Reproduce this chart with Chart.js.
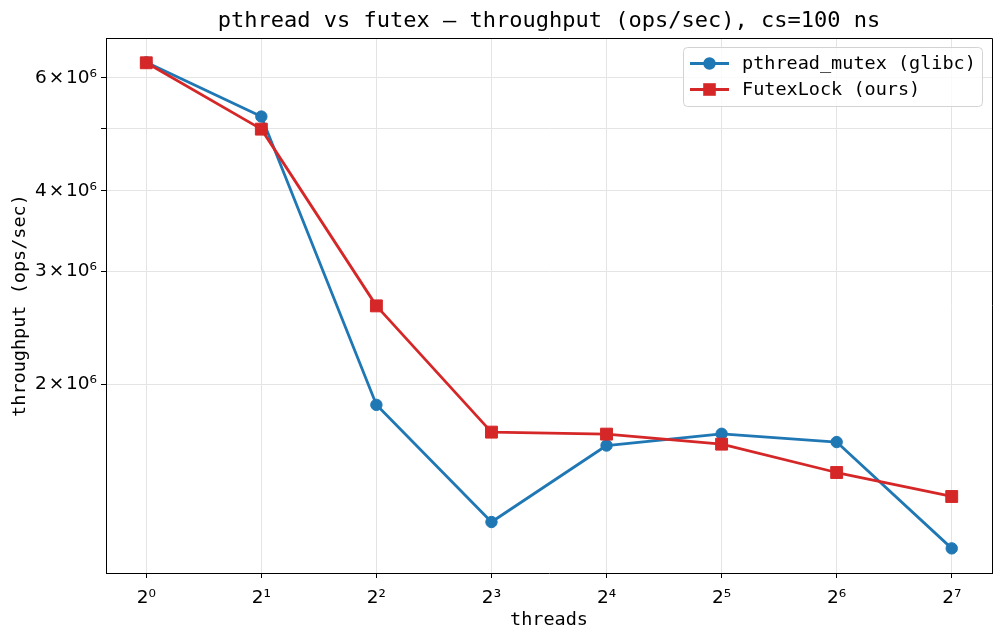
<!DOCTYPE html>
<html>
<head>
<meta charset="utf-8">
<script src="https://cdn.jsdelivr.net/npm/chart.js@4.4.1/dist/chart.umd.min.js"></script>
<style>
  html, body { margin: 0; padding: 0; background: #ffffff; }
  #wrap { width: 1004px; height: 641px; }
  canvas { display: block; }
</style>
</head>
<body>
<div id="wrap"><canvas id="c" width="1004" height="641"></canvas></div>
<script>
// ---- data ----
const threads = [1, 2, 4, 8, 16, 32, 64, 128];
const xTickLabels = ['2\u2070', '2\u00B9', '2\u00B2', '2\u00B3', '2\u2074', '2\u2075', '2\u2076', '2\u2077'];
const pthreadMutex = [6.34e6, 5.22e6, 1.857e6, 1.22e6, 1.605e6, 1.674e6, 1.625e6, 1.11e6];
const futexLock = [6.33e6, 4.99e6, 2.648e6, 1.684e6, 1.672e6, 1.613e6, 1.457e6, 1.337e6];
const yTickValues = [2e6, 3e6, 4e6, 5e6, 6e6];
const yTickLabels = ['2\u200A\u00D7\u200A10\u2076', '3\u200A\u00D7\u200A10\u2076', '4\u200A\u00D7\u200A10\u2076', '', '6\u200A\u00D7\u200A10\u2076'];
const seriesNames = ['pthread_mutex (glibc)', 'FutexLock (ours)'];
const titleText = 'pthread vs futex \u2014 throughput (ops/sec), cs=100 ns';
const xLabel = 'threads';
const yLabel = 'throughput (ops/sec)';

const BLUE = '#1f77b4';
const RED = '#d62728';
const MONO = '"DejaVu Sans Mono", monospace';
const SANS = '"DejaVu Sans", sans-serif';
const GRID = '#e4e4e4';

const framePlugin = {
  id: 'frame',
  afterDatasetsDraw(chart) {
    const ctx = chart.ctx, a = chart.chartArea;
    ctx.save();
    ctx.strokeStyle = '#000';
    ctx.lineWidth = 1;
    ctx.beginPath();
    ctx.moveTo(a.left, a.top + 0.5);
    ctx.lineTo(a.right + 0.5, a.top + 0.5);
    ctx.lineTo(a.right + 0.5, a.bottom);
    ctx.stroke();
    ctx.restore();
  },
  afterDraw(chart) {
    const ctx = chart.ctx, a = chart.chartArea;
    ctx.save();
    // title centred over the plot area
    ctx.fillStyle = '#000';
    ctx.font = '22px ' + MONO;
    ctx.textAlign = 'center';
    ctx.textBaseline = 'middle';
    ctx.fillText(titleText, (a.left + a.right) / 2, 21);

    // legend box (matplotlib style: line + marker)
    const bx = 683.5, by = 47.5, bw = 299, bh = 59, r = 4;
    ctx.beginPath();
    ctx.moveTo(bx + r, by);
    ctx.lineTo(bx + bw - r, by);
    ctx.arcTo(bx + bw, by, bx + bw, by + r, r);
    ctx.lineTo(bx + bw, by + bh - r);
    ctx.arcTo(bx + bw, by + bh, bx + bw - r, by + bh, r);
    ctx.lineTo(bx + r, by + bh);
    ctx.arcTo(bx, by + bh, bx, by + bh - r, r);
    ctx.lineTo(bx, by + r);
    ctx.arcTo(bx, by, bx + r, by, r);
    ctx.closePath();
    ctx.fillStyle = 'rgba(255,255,255,0.8)';
    ctx.fill();
    ctx.strokeStyle = '#d3d3d3';
    ctx.lineWidth = 1;
    ctx.stroke();

    const rows = [
      { name: seriesNames[0], color: BLUE, style: 'circle', y: 63.5 },
      { name: seriesNames[1], color: RED, style: 'rect', y: 89.5 }
    ];
    rows.forEach(row => {
      ctx.strokeStyle = row.color;
      ctx.lineWidth = 2.8;
      ctx.beginPath();
      ctx.moveTo(690, row.y);
      ctx.lineTo(729, row.y);
      ctx.stroke();
      ctx.fillStyle = row.color;
      ctx.beginPath();
      if (row.style === 'circle') {
        ctx.arc(709.5, row.y, 6.2, 0, Math.PI * 2);
      } else {
        ctx.rect(709.5 - 6.3, row.y - 6.3, 12.6, 12.6);
      }
      ctx.fill();
      ctx.fillStyle = '#000';
      ctx.font = '18.5px ' + MONO;
      ctx.textBaseline = 'middle';
      ctx.textAlign = 'left';
      ctx.fillText(row.name, 742, row.y + 1);
    });
    ctx.restore();
  }
};

const toXY = (vals) => vals.map((v, i) => ({ x: threads[i], y: v }));

new Chart(document.getElementById('c'), {
  type: 'line',
  data: {
    datasets: [
      {
        label: seriesNames[0],
        data: toXY(pthreadMutex),
        borderColor: BLUE,
        backgroundColor: BLUE,
        borderWidth: 2.8,
        borderJoinStyle: 'round',
        pointStyle: 'circle',
        pointRadius: 5.7,
        pointBorderWidth: 1,
        pointBackgroundColor: BLUE,
        pointBorderColor: BLUE,
        tension: 0,
        order: 1
      },
      {
        label: seriesNames[1],
        data: toXY(futexLock),
        borderColor: RED,
        backgroundColor: RED,
        borderWidth: 2.8,
        borderJoinStyle: 'round',
        pointStyle: 'rect',
        pointRadius: 8.4,
        pointBorderWidth: 1,
        pointBackgroundColor: RED,
        pointBorderColor: RED,
        tension: 0,
        order: 0
      }
    ]
  },
  options: {
    responsive: false,
    animation: false,
    devicePixelRatio: 1,
    layout: { padding: { left: 0, right: 12, top: 38, bottom: 0 } },
    plugins: {
      legend: { display: false },
      tooltip: { enabled: false },
      title: { display: false }
    },
    scales: {
      x: {
        type: 'logarithmic',
        min: Math.pow(2, -0.35),
        max: Math.pow(2, 7.35),
        afterBuildTicks: (s) => { s.ticks = threads.map(v => ({ value: v })); },
        afterFit: (s) => { s.height = 68; },
        ticks: {
          autoSkip: false,
          maxRotation: 0,
          color: '#000',
          font: { family: SANS, size: 18.5 },
          padding: 9,
          callback: (v, i) => xTickLabels[i]
        },
        grid: { color: GRID, lineWidth: 1, drawTicks: true, tickLength: 5, tickColor: '#000', tickWidth: 1 },
        border: { display: true, color: '#000', width: 1 },
        title: {
          display: true,
          text: xLabel,
          color: '#000',
          font: { family: MONO, size: 18.5 },
          padding: { top: 0, bottom: 10 }
        }
      },
      y: {
        type: 'logarithmic',
        min: Math.pow(10, 6.0070),
        max: Math.pow(10, 6.8400),
        afterBuildTicks: (s) => { s.ticks = yTickValues.map(v => ({ value: v })); },
        afterFit: (s) => { s.width = 106; },
        ticks: {
          autoSkip: false,
          color: '#000',
          font: { family: SANS, size: 18.5 },
          padding: 4,
          callback: (v, i) => yTickLabels[i]
        },
        grid: { color: GRID, lineWidth: 1, drawTicks: true, tickLength: 5, tickColor: '#000', tickWidth: 1 },
        border: { display: true, color: '#000', width: 1 },
        title: {
          display: true,
          text: yLabel,
          color: '#000',
          font: { family: MONO, size: 18.5 },
          padding: { top: 9, bottom: 0 }
        }
      }
    }
  },
  plugins: [framePlugin]
});
</script>
</body>
</html>
